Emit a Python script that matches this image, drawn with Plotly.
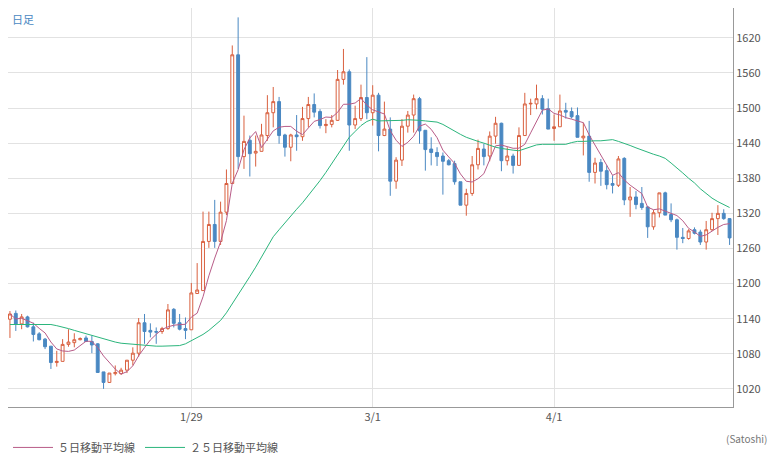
import pandas as pd
import plotly.graph_objects as go

# daily candles, 2018-12-29 .. 2019-05-01
dates = pd.date_range("2018-12-29", periods=124, freq="D")

opens = [1139, 1149, 1131, 1143, 1126, 1114, 1105, 1093, 1065, 1067,
         1096, 1099, 1104, 1107, 1101, 1097, 1049, 1031, 1046, 1046,
         1052, 1069, 1081, 1133, 1120, 1118, 1118, 1123, 1156, 1133,
         1123, 1121, 1183, 1188, 1272, 1301, 1272, 1322, 1371, 1591,
         1417, 1445, 1423, 1426, 1453, 1492, 1511, 1454, 1433, 1454,
         1451, 1482, 1506, 1494, 1470, 1472, 1479, 1549, 1562, 1471,
         1482, 1518, 1492, 1522, 1453, 1464, 1375, 1411, 1469, 1488,
         1516, 1462, 1430, 1424, 1418, 1410, 1405, 1374, 1334, 1354,
         1403, 1430, 1418, 1452, 1474, 1410, 1418, 1402, 1453, 1507,
         1507, 1516, 1499, 1465, 1468, 1496, 1494, 1487, 1449, 1452,
         1390, 1407, 1393, 1371, 1368, 1414, 1343, 1348, 1337, 1331,
         1297, 1321, 1355, 1318, 1309, 1279, 1277, 1292, 1288, 1271,
         1292, 1311, 1320, 1311]
highs = [1153, 1154, 1148, 1145, 1133, 1117, 1107, 1093, 1085, 1105,
         1122, 1115, 1108, 1111, 1111, 1098, 1049, 1047, 1060, 1056,
         1069, 1091, 1141, 1148, 1132, 1125, 1126, 1165, 1158, 1148,
         1142, 1201, 1235, 1323, 1323, 1343, 1340, 1395, 1607, 1655,
         1487, 1453, 1453, 1473, 1522, 1536, 1519, 1456, 1456, 1488,
         1502, 1519, 1525, 1498, 1481, 1488, 1565, 1601, 1566, 1504,
         1540, 1587, 1539, 1526, 1511, 1484, 1416, 1481, 1495, 1523,
         1519, 1462, 1450, 1433, 1424, 1413, 1410, 1374, 1362, 1418,
         1446, 1439, 1460, 1485, 1475, 1433, 1422, 1467, 1526, 1516,
         1540, 1522, 1516, 1489, 1523, 1509, 1501, 1501, 1475, 1478,
         1415, 1413, 1402, 1385, 1418, 1416, 1365, 1358, 1365, 1332,
         1326, 1355, 1357, 1337, 1311, 1295, 1293, 1296, 1292, 1307,
         1321, 1334, 1327, 1311]
lows = [1107, 1119, 1122, 1125, 1101, 1103, 1088, 1054, 1058, 1067,
        1092, 1091, 1103, 1100, 1081, 1048, 1020, 1030, 1043, 1044,
        1047, 1060, 1075, 1097, 1108, 1097, 1114, 1121, 1125, 1120,
        1105, 1121, 1183, 1188, 1261, 1261, 1266, 1317, 1371, 1396,
        1396, 1383, 1400, 1426, 1444, 1467, 1439, 1417, 1409, 1427,
        1444, 1467, 1484, 1465, 1457, 1467, 1478, 1540, 1427, 1464,
        1478, 1481, 1470, 1426, 1452, 1350, 1362, 1401, 1458, 1458,
        1439, 1393, 1402, 1401, 1352, 1402, 1369, 1334, 1316, 1350,
        1395, 1402, 1409, 1439, 1392, 1402, 1388, 1402, 1453, 1488,
        1498, 1489, 1464, 1444, 1468, 1482, 1482, 1450, 1419, 1374,
        1371, 1367, 1361, 1354, 1365, 1334, 1314, 1327, 1326, 1278,
        1292, 1313, 1317, 1305, 1258, 1269, 1275, 1284, 1266, 1258,
        1290, 1283, 1309, 1266]
closes = [1148, 1131, 1143, 1126, 1113, 1104, 1092, 1065, 1067, 1096,
          1100, 1104, 1106, 1101, 1095, 1048, 1031, 1047, 1048, 1052,
          1069, 1081, 1133, 1118, 1117, 1117, 1123, 1155, 1132, 1122,
          1120, 1184, 1189, 1272, 1301, 1272, 1322, 1371, 1591, 1417,
          1443, 1422, 1426, 1454, 1492, 1511, 1453, 1433, 1454, 1451,
          1482, 1506, 1493, 1470, 1472, 1479, 1549, 1562, 1471, 1482,
          1518, 1492, 1522, 1453, 1464, 1375, 1411, 1469, 1488, 1516,
          1461, 1429, 1424, 1417, 1409, 1403, 1374, 1334, 1354, 1403,
          1431, 1417, 1452, 1474, 1410, 1418, 1402, 1453, 1507, 1508,
          1516, 1498, 1464, 1468, 1495, 1493, 1485, 1450, 1452, 1390,
          1406, 1392, 1369, 1368, 1413, 1343, 1348, 1335, 1330, 1297,
          1321, 1355, 1317, 1309, 1279, 1277, 1290, 1286, 1271, 1292,
          1311, 1320, 1311, 1278]

# 25-day average (needs data before the window)
ma25 = [1130, 1130, 1130, 1130, 1130, 1130, 1130, 1130, 1128, 1126,
        1123, 1120, 1117, 1114, 1111, 1108, 1105, 1102, 1100, 1098,
        1097, 1096, 1095, 1094, 1094, 1093, 1093, 1093, 1093, 1094,
        1097, 1102, 1107, 1113, 1120, 1128, 1137, 1150, 1165, 1180,
        1196, 1212, 1228, 1245, 1262, 1280, 1292, 1304, 1316, 1327,
        1338, 1350, 1363, 1376, 1390, 1405, 1420, 1437, 1450, 1460,
        1470, 1477, 1481, 1478, 1478, 1479, 1478, 1479, 1480, 1480,
        1479, 1478, 1477, 1476, 1472, 1466, 1460, 1455, 1450, 1446,
        1443, 1440, 1436, 1433, 1431, 1429, 1428, 1427, 1430, 1434,
        1437, 1438, 1438, 1438, 1438, 1438, 1441, 1443, 1443, 1444,
        1444, 1444, 1445, 1446, 1443, 1440, 1436, 1432, 1428, 1425,
        1421, 1418, 1414, 1406, 1398, 1389, 1380, 1372, 1362, 1354,
        1346, 1340, 1335, 1330]

ma5 = pd.Series(closes).rolling(5, min_periods=1).mean()

up_color = "#d9603f"
down_color = "#4a88c2"

fig = go.Figure()
fig.add_trace(go.Candlestick(
    x=dates, open=opens, high=highs, low=lows, close=closes,
    increasing=dict(line=dict(color=up_color, width=1), fillcolor="white"),
    decreasing=dict(line=dict(color=down_color, width=1), fillcolor=down_color),
    whiskerwidth=0, showlegend=False, hoverinfo="skip"))
fig.add_trace(go.Scatter(x=dates, y=ma5, mode="lines", name="５日移動平均線",
                         line=dict(color="#b85c88", width=1)))
fig.add_trace(go.Scatter(x=dates, y=ma25, mode="lines", name="２５日移動平均線",
                         line=dict(color="#2bb57c", width=1)))

fig.update_layout(
    width=776, height=454,
    margin=dict(l=0, r=51, t=0, b=52),
    paper_bgcolor="white", plot_bgcolor="white",
    font=dict(family="Noto Sans CJK JP", size=11, color="#555"),
    legend=dict(orientation="h", x=0.0, y=-0.065, yanchor="top",
                font=dict(size=11, color="#555"), itemwidth=40),
    annotations=[
        dict(text="日足", x=0.003, y=0.997, xref="paper", yref="paper",
             xanchor="left", yanchor="top", showarrow=False,
             font=dict(color="#4a88c2", size=11)),
        dict(text="(Satoshi)", x=1.05, y=-0.055, xref="paper", yref="paper",
             xanchor="right", yanchor="top", showarrow=False,
             font=dict(color="#777", size=10)),
    ],
)
fig.update_xaxes(
    range=["2018-12-28 16:00", "2019-05-01 14:00"],
    rangeslider_visible=False,
    tickvals=["2019-01-29", "2019-03-01", "2019-04-01"],
    ticktext=["1/29", "3/1", "4/1"],
    showgrid=True, gridcolor="#e2e2e2",
    showline=True, linecolor="#999", mirror=True, ticks="",
)
fig.update_yaxes(
    side="right", range=[989, 1671], dtick=60, tick0=1020,
    showgrid=True, gridcolor="#e2e2e2",
    showline=True, linecolor="#999", mirror=True, ticks="",
)

fig.write_html("out.html")
